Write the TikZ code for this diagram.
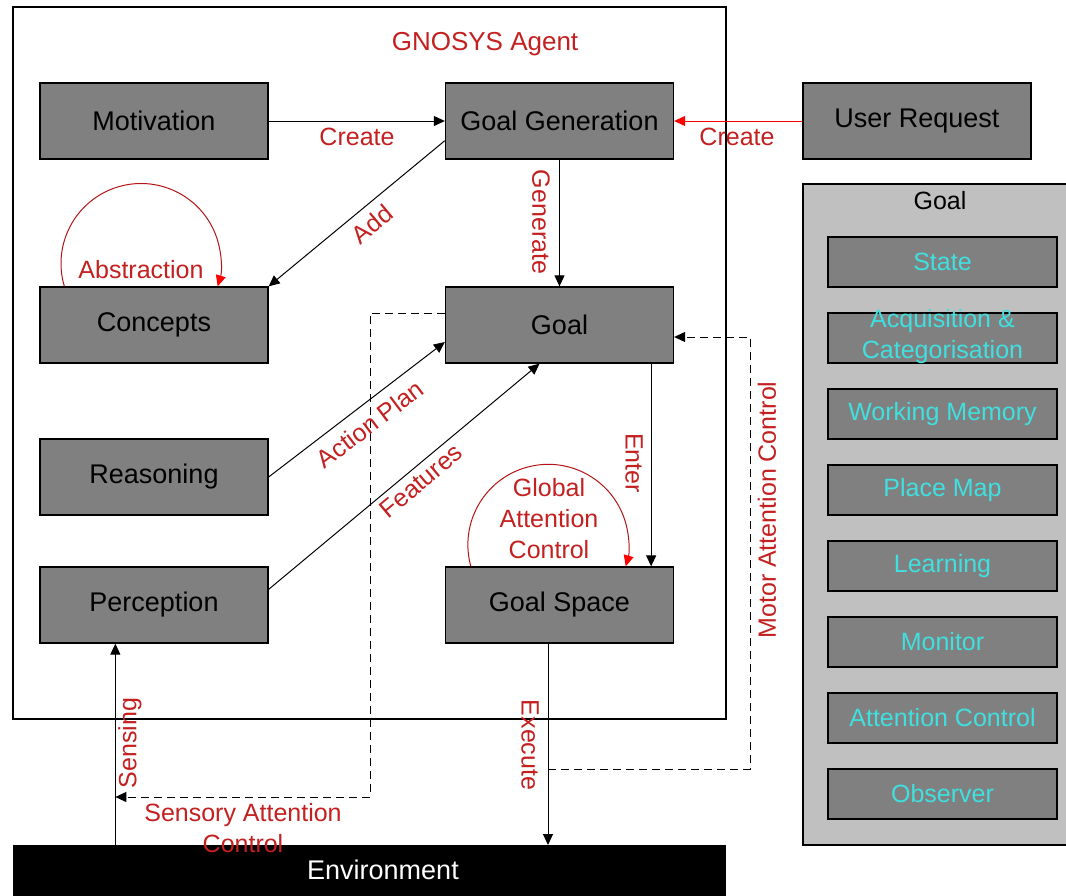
\documentclass[tikz,border=0pt]{standalone}
\usepackage{fontspec}
\setmainfont{Liberation Sans}
\usetikzlibrary{arrows.meta,calc}
\definecolor{boxgray}{RGB}{128,128,128}
\definecolor{panelgray}{RGB}{192,192,192}
\definecolor{lblred}{RGB}{196,32,32}
\definecolor{arcred}{RGB}{180,20,20}
\definecolor{aqua}{RGB}{64,224,224}

\begin{document}
\begin{tikzpicture}[x=1pt,y=1pt,
  unitbox/.style={draw=black, line width=1.3pt, fill=boxgray, minimum width=228pt,
    minimum height=76pt, inner sep=0pt, font=\fontsize{27}{32}\selectfont},
  partbox/.style={draw=black, line width=1.3pt, fill=boxgray, minimum width=229pt,
    minimum height=50pt, inner sep=0pt, text=aqua, align=center,
    font=\fontsize{25}{31}\selectfont},
  lbl/.style={text=lblred, inner sep=0pt, align=center, font=\fontsize{25}{31}\selectfont},
  tip/.style={-{Triangle[length=11pt,width=10pt]}},
  flow/.style={line width=1pt, tip},
  ctrl/.style={flow, dash pattern=on 8pt off 5pt},
  selfarc/.style={line width=1pt, draw=arcred, -{Triangle[length=11pt,width=10pt,color=red]}},
]
\clip (0,0) rectangle (1066,-895);
\fill[white] (0,0) rectangle (1066,-895);

% agent frame and environment band
\draw[line width=1.3pt] (13,-7) rectangle (726,-719);
\node[lbl, font=\fontsize{26}{31}\selectfont] (title) at (485,-44) {GNOSYS Agent};
\fill[black] (13,-845) rectangle (726,-900);
\node[text=white, inner sep=0pt, font=\fontsize{27}{32}\selectfont] (envtext) at (383,-870) {Environment};
\coordinate (env) at (369.5,-845);

% components of the agent
\node[unitbox] (motivation) at (154,-121) {Motivation};
\node[unitbox] (gen) at (559.5,-121) {Goal Generation};
\node[unitbox] (user) at (917,-121) {User Request};
\node[unitbox] (concepts) at (154,-325) {Concepts};
\node[unitbox] (goal) at (559.5,-325) {Goal};
\node[unitbox] (reasoning) at (154,-477) {Reasoning};
\node[unitbox] (perception) at (154,-605) {Perception};
\node[unitbox] (space) at (559.5,-605) {Goal Space};

% goal structure panel
\draw[line width=1.3pt, fill=panelgray] (803,-184) rectangle (1090,-845);
\node[inner sep=0pt, font=\fontsize{25}{31}\selectfont] (paneltitle) at (940,-201) {Goal};
\node[partbox] (state) at (942.5,-262) {State};
\node[partbox] (acq) at (942.5,-338) {};
\node[text=aqua, inner sep=0pt, align=center, font=\fontsize{25}{31}\selectfont] (acqtext) at (942.5,-337) {Acquisition \&\\Categorisation};
\node[partbox] (wm) at (942.5,-414) {Working Memory};
\node[partbox] (place) at (942.5,-490) {Place Map};
\node[partbox] (learning) at (942.5,-566) {Learning};
\node[partbox] (monitor) at (942.5,-642) {Monitor};
\node[partbox] (attn) at (942.5,-718) {Attention Control};
\node[partbox] (observer) at (942.5,-794) {Observer};

% solid connectors
\draw[flow] (motivation.east) -- (gen.west);
\draw[flow, draw=red, -{Triangle[length=11pt,width=10pt,color=red]}] (user.west) -- (gen.east);
\draw[flow] ($(gen.south west)+(0,19)$) -- (concepts.north east);
\draw[flow] (gen.south) -- (goal.north);
\draw[flow] (reasoning.east) -- ($(goal.west)+(0,-17)$);
\draw[flow] ($(perception.north east)+(0,-23)$) -- ($(goal.south)+(-20,0)$);
\draw[flow] ($(goal.south east)+(-23,0)$) -- ($(space.north east)+(-23,0)$);
\coordinate (exec) at ($(space.south)+(-11.5,0)$);
\draw[flow] (exec) -- (exec |- env);
\coordinate (sense) at ($(perception.south west)+(76,0)$);
\draw[flow] (sense |- env) -- (sense);

% self loops
\coordinate (absL) at ($(concepts.north west)+(25,0)$);
\draw[selfarc] (absL) arc[start angle=196.6, end angle=-16.6, radius=80];
\coordinate (gacL) at ($(space.north west)+(26,0)$);
\draw[selfarc] (gacL) arc[start angle=195.6, end angle=-15.6, radius=80.4];

% attention control (dashed)
\coordinate (sacA) at ($(goal.west)+(0,12)$);
\coordinate (sacB) at (370,-313);
\coordinate (sacC) at (370,-797);
\draw[ctrl] (sacA) -- (sacB) -- (sacC) -- (sacC -| sense);
\coordinate (macA) at (exec |- 0,-769);
\coordinate (macB) at (750,-769);
\coordinate (macC) at (750,-337);
\draw[ctrl] (macA) -- (macB) -- (macC) -- ($(goal.east)+(0,-12)$);

% connector labels
\node[lbl] (l1) at (357,-137) {Create};
\node[lbl] (l2) at (737,-137) {Create};
\node[lbl, rotate=40] (l3) at (372,-224) {Add};
\node[lbl, rotate=-90] (l4) at (541,-222) {Generate};
\node[lbl] (l5) at (141,-270) {Abstraction};
\node[lbl, rotate=37] (l6) at (370,-424) {Action Plan};
\node[lbl, rotate=40] (l7) at (421,-481) {Features};
\node[lbl, rotate=-90] (l8) at (634,-463) {Enter};
\node[lbl] (l9) at (549,-519) {Global\\Attention\\Control};
\node[lbl, rotate=90] (l10) at (767,-510) {Motor Attention Control};
\node[lbl, rotate=-90] (l11) at (530,-745) {Execute};
\node[lbl, rotate=90] (l12) at (130,-743) {Sensing};
\node[lbl] (l13) at (243,-828) {Sensory Attention\\Control};
\end{tikzpicture}
\end{document}
